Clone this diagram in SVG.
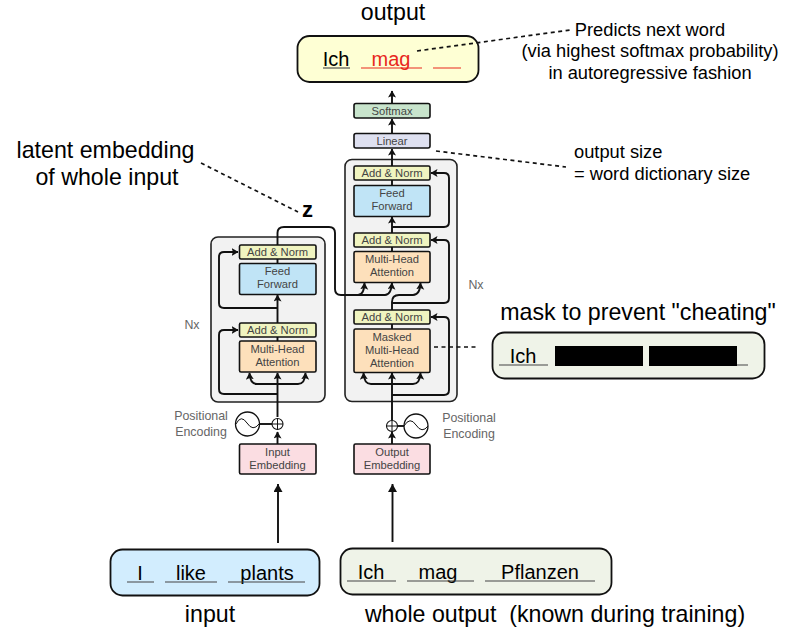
<svg xmlns="http://www.w3.org/2000/svg" width="803" height="632" viewBox="0 0 803 632">
<style>
text{font-family:"Liberation Sans",Arial,sans-serif}
.big{font-size:23.2px;fill:#000;text-anchor:middle;white-space:pre}
.med{font-size:18.3px;fill:#000;text-anchor:middle}
.wd{font-size:20px;fill:#000;text-anchor:middle}
.sm{font-size:11.2px;fill:#444;text-anchor:middle}
.lab{font-size:12.4px;fill:#666;text-anchor:middle}
.b{stroke:#111;stroke-width:1.6}
.outer{fill:#f2f2f2;stroke:#222;stroke-width:1.6}
.y{fill:#f0f4c0}.bl{fill:#c0e4f6}.o{fill:#fde0bb}.p{fill:#fbdde2}.g{fill:#c8e4cc}.v{fill:#dee0f0}
.w{fill:none;stroke:#111;stroke-width:1.9}
.d{fill:none;stroke:#111;stroke-width:1.7;stroke-dasharray:4 3.5}
.sent{stroke:#111;stroke-width:1.8}
.ul{stroke:#444;stroke-width:1.1}
</style>
<defs>
<marker id="a" markerUnits="userSpaceOnUse" markerWidth="9" markerHeight="9" refX="6.500" refY="4" orient="auto-start-reverse"><path d="M0 0L7 4L0 8L1.500 4Z" fill="#111"/></marker>
<marker id="A" markerUnits="userSpaceOnUse" markerWidth="12" markerHeight="12" refX="8" refY="4.500" orient="auto"><path d="M0 0L8 4.500L0 9Z" fill="#111"/></marker>
</defs>
<g id="encoder-frame"><rect class="outer" x="211" y="237" width="114" height="165" rx="7"/></g>
<g id="decoder-frame"><rect class="outer" x="345" y="159.500" width="112" height="242" rx="7"/></g>
<g id="connectors">
<path class="w" d="M277.500 444V432" marker-end="url(#a)"/>
<path class="w" d="M277.500 417V373" marker-end="url(#a)"/>
<path class="w" d="M277.500 337V295" marker-end="url(#a)"/>
<path class="w" d="M277.500 372V337M277.500 263V259"/>
<path class="w" d="M277.500 245V233Q277.500 227 284 227H329Q335 227 335 233V289Q335 295 341 295H358Q364 295 364.500 283" marker-end="url(#a)"/>
<path class="w" d="M277.500 394H224Q219 394 219 389V335Q219 330 224 330H238" marker-end="url(#a)"/>
<path class="w" d="M277.500 308H224Q219 308 219 303V257Q219 252 224 252H238" marker-end="url(#a)"/>
<path class="w" d="M249.500 373Q250 384 257 384H298Q305 384 305.500 373" marker-start="url(#a)" marker-end="url(#a)"/>
<path class="w" d="M260 424H272"/>
<path class="w" d="M392 444V432" marker-end="url(#a)"/>
<path class="w" d="M392 420V373" marker-end="url(#a)"/>
<path class="w" d="M404 426H397"/>
<path class="w" d="M392 395H444Q449 395 449 390V322Q449 317 444 317H431" marker-end="url(#a)"/>
<path class="w" d="M363.500 373Q364 384 371 384H413Q420 384 420.500 373" marker-start="url(#a)" marker-end="url(#a)"/>
<path class="w" d="M392 329V324M392 310V302Q392 295 399 295H413Q420 295 420.500 283" marker-end="url(#a)"/>
<path class="w" d="M341 295H385Q391 295 392 283" marker-end="url(#a)"/>
<path class="w" d="M392 303H444Q449 303 449 298V245Q449 240 444 240H431" marker-end="url(#a)"/>
<path class="w" d="M392 251V247M392 233V217" marker-end="url(#a)"/>
<path class="w" d="M392 227H444Q449 227 449 222V178Q449 173 444 173H431" marker-end="url(#a)"/>
<path class="w" d="M392 185V180M392 166V149" marker-end="url(#a)"/>
<path class="w" d="M392 133V119" marker-end="url(#a)"/>
<path class="w" d="M392 103V91" marker-end="url(#a)"/>
<path class="w" d="M278 543V484" marker-end="url(#A)"/>
<path class="w" d="M392.500 542V484" marker-end="url(#A)"/>
</g>
<g id="add-norm-enc-2"><rect class="b y" x="239.500" y="245" width="76.500" height="14" rx="1.500"/><text class="sm" x="277.500" y="256">Add &amp; Norm</text></g>
<g id="feed-forward-enc"><rect class="b bl" x="239.500" y="263.500" width="76.500" height="31" rx="1.500"/><text class="sm" x="277.500" y="275">Feed</text><text class="sm" x="277.500" y="288">Forward</text></g>
<g id="add-norm-enc-1"><rect class="b y" x="239.500" y="323" width="76.500" height="14" rx="1.500"/><text class="sm" x="277.500" y="334">Add &amp; Norm</text></g>
<g id="attention-enc"><rect class="b o" x="239.500" y="341" width="76.500" height="31" rx="1.500"/><text class="sm" x="277.500" y="353">Multi-Head</text><text class="sm" x="277.500" y="366">Attention</text></g>
<g id="input-embedding"><rect class="b p" x="239.500" y="444" width="76.500" height="30" rx="1.500"/><text class="sm" x="277.500" y="456">Input</text><text class="sm" x="277.500" y="469">Embedding</text></g>
<g id="pos-enc-left"><circle class="w" cx="247.500" cy="424" r="12" style="fill:#fff;stroke-width:1.300"/><path class="w" d="M236 424Q241 414 247 423T259 424" style="stroke-width:1"/><circle class="w" cx="277.500" cy="424" r="5.500" style="fill:#fff;stroke-width:1.100"/><path d="M272 424H283M277.500 418.500V429.500" stroke="#111" stroke-width="1"/><text class="lab" x="201" y="420">Positional</text><text class="lab" x="201" y="436">Encoding</text></g>
<g id="softmax"><rect class="b g" x="354" y="103.500" width="76" height="14.500" rx="2"/><text class="sm" x="392" y="114.500">Softmax</text></g>
<g id="linear"><rect class="b v" x="354" y="133.500" width="76" height="14.500" rx="2"/><text class="sm" x="392" y="144.500">Linear</text></g>
<g id="add-norm-dec-3"><rect class="b y" x="354" y="166" width="76" height="14" rx="1.500"/><text class="sm" x="392" y="177">Add &amp; Norm</text></g>
<g id="feed-forward-dec"><rect class="b bl" x="354" y="185.500" width="76" height="31" rx="1.500"/><text class="sm" x="392" y="197">Feed</text><text class="sm" x="392" y="210">Forward</text></g>
<g id="add-norm-dec-2"><rect class="b y" x="354" y="233" width="76" height="14" rx="1.500"/><text class="sm" x="392" y="244">Add &amp; Norm</text></g>
<g id="attention-dec"><rect class="b o" x="354" y="251.500" width="76" height="31" rx="1.500"/><text class="sm" x="392" y="263">Multi-Head</text><text class="sm" x="392" y="276">Attention</text></g>
<g id="add-norm-dec-1"><rect class="b y" x="354" y="310" width="76" height="14" rx="1.500"/><text class="sm" x="392" y="321">Add &amp; Norm</text></g>
<g id="masked-attention"><rect class="b o" x="354" y="329" width="76" height="43.500" rx="1.500"/><text class="sm" x="392" y="340.500">Masked</text><text class="sm" x="392" y="353.500">Multi-Head</text><text class="sm" x="392" y="367">Attention</text></g>
<g id="output-embedding"><rect class="b p" x="354" y="444" width="76" height="30" rx="1.500"/><text class="sm" x="392" y="456">Output</text><text class="sm" x="392" y="469">Embedding</text></g>
<g id="pos-enc-right"><circle class="w" cx="416" cy="426" r="12" style="fill:#fff;stroke-width:1.300"/><path class="w" d="M404 426Q410 416 416 425T428 426" style="stroke-width:1"/><circle class="w" cx="392" cy="426" r="5.500" style="fill:#fff;stroke-width:1.100"/><path d="M386.500 426H397.500M392 420.500V431.500" stroke="#111" stroke-width="1"/><text class="lab" x="469" y="422">Positional</text><text class="lab" x="469" y="438">Encoding</text></g>
<g id="nx-labels"><text class="lab" x="192" y="329">Nx</text><text class="lab" x="476" y="289">Nx</text></g>
<g id="output-box"><rect class="sent" x="297.500" y="36" width="181" height="46" rx="12" fill="#feffd4"/><text class="wd" x="336" y="66">Ich</text><text class="wd" x="391" y="66" style="fill:#e8281c">mag</text><path class="ul" d="M323 68H350"/><path d="M361 68H422M433 68H461" stroke="#e8281c" stroke-width="1.100"/></g>
<g id="mask-box"><rect class="sent" x="492.500" y="332.500" width="272" height="46" rx="12" fill="#eff3e8"/><text class="wd" x="523" y="363">Ich</text><path class="ul" d="M499 365H548M650 365H748"/><path d="M555 346H643V366H555ZM649 346H737V366H649Z" fill="#000"/></g>
<g id="input-box"><rect class="sent" x="110.500" y="549.500" width="209" height="46" rx="12" fill="#d2edfe"/><text class="wd" x="140" y="580">I</text><text class="wd" x="191" y="580">like</text><text class="wd" x="267" y="580">plants</text><path class="ul" d="M127 582H154M165 582H217M228 582H305"/></g>
<g id="whole-output-box"><rect class="sent" x="340.500" y="548.500" width="271" height="46" rx="12" fill="#eff3e8"/><text class="wd" x="371" y="579">Ich</text><text class="wd" x="438" y="579">mag</text><text class="wd" x="540" y="579">Pflanzen</text><path class="ul" d="M347 581H396M407 581H474M485 581H595"/></g>
<g id="annotation-connectors">
<path class="d" d="M201 163L298 212"/>
<path class="d" d="M436 151L566 167"/>
<path class="d" d="M434 347H478"/>
<path class="d" d="M417 51L570 30"/>
</g>
<g id="annotations">
<text class="big" x="393" y="20">output</text>
<text class="med" x="650" y="36">Predicts next word</text>
<text class="med" x="650" y="57">(via highest softmax probability)</text>
<text class="med" x="650" y="79">in autoregressive fashion</text>
<text class="big" x="105.500" y="158">latent embedding</text>
<text class="big" x="107" y="185">of whole input</text>
<text x="307.500" y="217" style="font-size:22px;font-weight:700;text-anchor:middle;fill:#000">z</text>
<text class="med" x="574" y="158" style="text-anchor:start">output size</text>
<text class="med" x="574" y="180" style="text-anchor:start">= word dictionary size</text>
<text class="big" x="638" y="320">mask to prevent "cheating"</text>
<text class="big" x="210" y="622">input</text>
<text class="big" x="555" y="622">whole output  (known during training)</text>
</g>
</svg>
